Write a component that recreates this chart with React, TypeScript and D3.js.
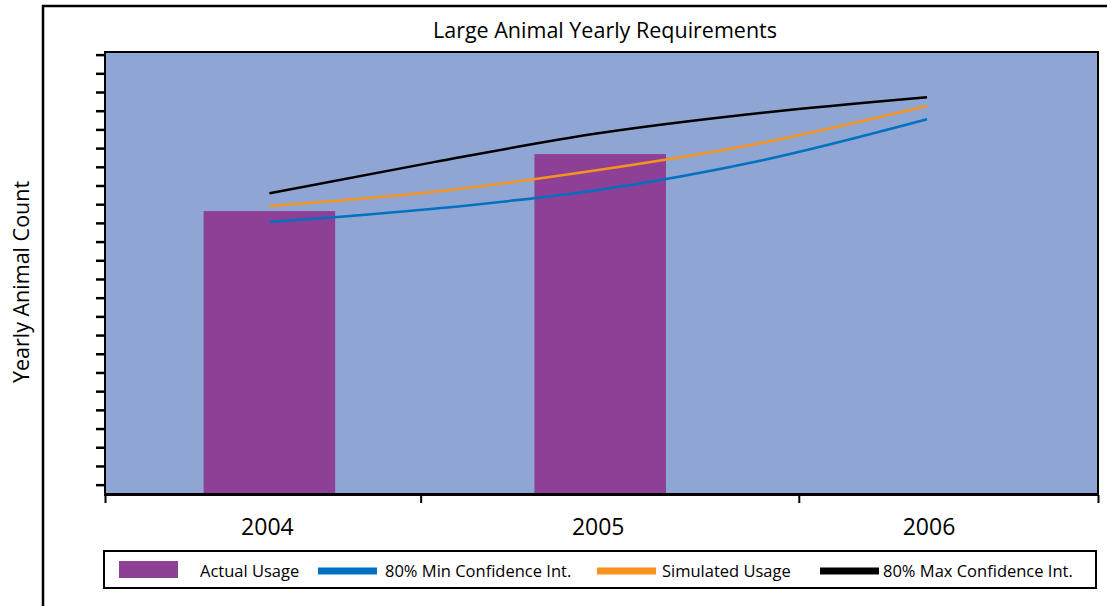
import React, { useEffect, useRef } from 'react';
import * as d3 from 'd3';

// yearly data
const years = [2004, 2005, 2006];
const actualUsage = [1513, 1818];
const lineYears = [2004, 2004.5, 2005, 2005.5, 2006];
const minConfidence = [1455, 1526, 1626, 1785, 2004];
const simulatedUsage = [1540, 1617, 1733, 1879, 2075];
const maxConfidence = [1608, 1775, 1929, 2039, 2122];

const yTickValues = d3.range(50, 2400, 100);
const xTickValues = [2003.5, 2004.46, 2005.61, 2006.52];

const legendItems = [
  { label: 'Actual Usage', color: '#8e3f96', kind: 'bar' },
  { label: '80% Min Confidence Int.', color: '#0070c0', kind: 'line' },
  { label: 'Simulated Usage', color: '#f7941d', kind: 'line' },
  { label: '80% Max Confidence Int.', color: '#000000', kind: 'line' },
];

const FONT = '"Open Sans", "Noto Sans", sans-serif';

function App() {
  const chartRef = useRef(null);

  useEffect(() => {
    if (chartRef.current) {
      createChart();
    }
  }, []);

  const createChart = () => {
    d3.select(chartRef.current).selectAll('*').remove();

    const W = 1107;
    const H = 606;
    const plot = { left: 105, top: 52, right: 1098, bottom: 494 };

    const svg = d3
      .select(chartRef.current)
      .append('svg')
      .attr('width', W)
      .attr('height', H)
      .style('position', 'absolute')
      .style('left', '0px')
      .style('top', '0px')
      .style('font-family', FONT);

    svg.append('rect').attr('width', W).attr('height', H).attr('fill', 'white');

    // outer frame (runs off the right and bottom)
    svg
      .append('rect')
      .attr('x', 43)
      .attr('y', 6)
      .attr('width', 1100)
      .attr('height', 640)
      .attr('fill', 'none')
      .attr('stroke', '#000')
      .attr('stroke-width', 2.5);

    const x = d3
      .scaleLinear()
      .domain([2003.5, 2006.52])
      .range([plot.left, plot.right]);

    const y = d3
      .scaleLinear()
      .domain([0, 2364])
      .range([plot.bottom, plot.top]);

    svg
      .append('rect')
      .attr('x', plot.left)
      .attr('y', plot.top)
      .attr('width', plot.right - plot.left)
      .attr('height', plot.bottom - plot.top)
      .attr('fill', '#8fa6d4')
      .attr('stroke', '#000')
      .attr('stroke-width', 2);

    svg
      .append('text')
      .attr('x', 605)
      .attr('y', 38)
      .attr('text-anchor', 'middle')
      .attr('font-size', 21.5)
      .text('Large Animal Yearly Requirements');

    // bars
    const barHalf = 0.2;
    svg
      .selectAll('rect.bar')
      .data(actualUsage)
      .enter()
      .append('rect')
      .attr('class', 'bar')
      .attr('x', (d, i) => x(years[i] - barHalf) + i * 2)
      .attr('y', (d) => y(d))
      .attr('width', x(2004 + barHalf) - x(2004 - barHalf))
      .attr('height', (d) => y(0) - y(d))
      .attr('fill', '#8e3f96');

    // lines
    const series = [
      { values: minConfidence, color: '#0070c0' },
      { values: simulatedUsage, color: '#f7941d' },
      { values: maxConfidence, color: '#000000' },
    ];
    const line = d3
      .line()
      .x((d) => x(d[0]))
      .y((d) => y(d[1]))
      .curve(d3.curveMonotoneX);

    series.forEach((s) => {
      svg
        .append('path')
        .attr('d', line(lineYears.map((yr, i) => [yr, s.values[i]])))
        .attr('fill', 'none')
        .attr('stroke', s.color)
        .attr('stroke-width', 2.5);
    });

    // y axis ticks (no labels)
    svg
      .append('g')
      .attr('transform', `translate(${plot.left},0)`)
      .call(d3.axisLeft(y).tickValues(yTickValues).tickSize(9).tickFormat(() => ''))
      .call((g) => g.select('.domain').remove())
      .call((g) => g.selectAll('line').attr('stroke', '#000').attr('stroke-width', 2.5));

    // x axis
    svg
      .append('g')
      .attr('transform', `translate(0,${plot.bottom + 1})`)
      .call(d3.axisBottom(x).tickValues(xTickValues).tickSize(8).tickFormat(() => ''))
      .call((g) => g.select('.domain').remove())
      .call((g) => g.selectAll('line').attr('stroke', '#000').attr('stroke-width', 2));

    svg
      .append('line')
      .attr('x1', plot.left - 1)
      .attr('x2', plot.right + 1)
      .attr('y1', plot.bottom + 0.5)
      .attr('y2', plot.bottom + 0.5)
      .attr('stroke', '#000')
      .attr('stroke-width', 3);

    svg
      .selectAll('text.year')
      .data(years)
      .enter()
      .append('text')
      .attr('class', 'year')
      .attr('x', (d, i) => x(d) - 2 + i * 2)
      .attr('y', 535)
      .attr('text-anchor', 'middle')
      .attr('font-size', 23)
      .text((d) => d);

    svg
      .append('text')
      .attr('transform', 'translate(29,282) rotate(-90)')
      .attr('text-anchor', 'middle')
      .attr('font-size', 21.5)
      .text('Yearly Animal Count');

    // legend
    const legend = svg.append('g');
    legend
      .append('rect')
      .attr('x', 104)
      .attr('y', 551)
      .attr('width', 992)
      .attr('height', 37)
      .attr('fill', 'white')
      .attr('stroke', '#000')
      .attr('stroke-width', 2);

    const swatchX = [119, 318, 597, 820];
    const textX = [200, 385, 662, 883];
    legendItems.forEach((item, i) => {
      if (item.kind === 'bar') {
        legend
          .append('rect')
          .attr('x', swatchX[i])
          .attr('y', 561)
          .attr('width', 59)
          .attr('height', 17)
          .attr('fill', item.color);
      } else {
        legend
          .append('rect')
          .attr('x', swatchX[i])
          .attr('y', 567.5)
          .attr('width', 59)
          .attr('height', 7)
          .attr('fill', item.color);
      }
      legend
        .append('text')
        .attr('x', textX[i])
        .attr('y', 577)
        .attr('font-size', 16.5)
        .text(item.label);
    });
  };

  return <div ref={chartRef} />;
}

export default App;
